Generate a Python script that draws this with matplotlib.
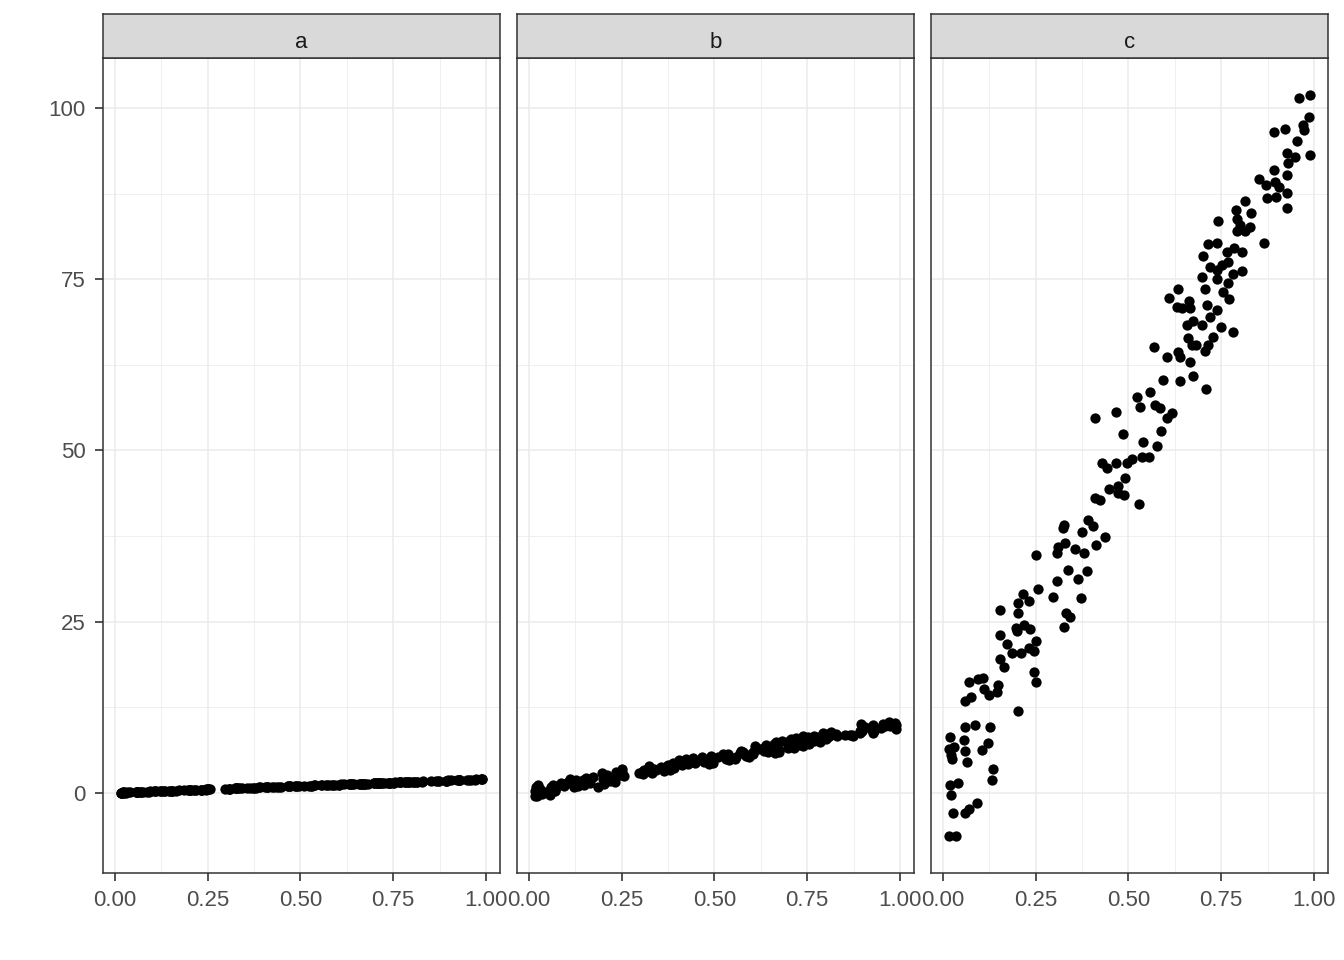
import matplotlib
matplotlib.use("Agg")
import matplotlib.pyplot as plt
from matplotlib.ticker import MultipleLocator, FormatStrFormatter

plt.rcParams['font.family'] = ['Liberation Sans', 'DejaVu Sans']

facets = ["a", "b", "c"]

x_vals = [0.017, 0.035, 0.027, 0.059, 0.070, 0.092, 0.019, 0.040, 0.022, 0.135,
          0.132, 0.018, 0.030, 0.022, 0.024, 0.019, 0.059, 0.065, 0.057, 0.105,
          0.121, 0.059, 0.086, 0.127, 0.202, 0.059, 0.075, 0.070, 0.094, 0.108,
          0.111, 0.124, 0.146, 0.148, 0.245, 0.251, 0.154, 0.164, 0.186, 0.210,
          0.232, 0.245, 0.173, 0.251, 0.154, 0.197, 0.199, 0.218, 0.235, 0.326,
          0.332, 0.154, 0.202, 0.202, 0.216, 0.232, 0.256, 0.296, 0.307, 0.251,
          0.342, 0.372, 0.364, 0.337, 0.388, 0.307, 0.310, 0.329, 0.356, 0.380,
          0.323, 0.326, 0.375, 0.391, 0.404, 0.412, 0.437, 0.410, 0.423, 0.528,
          0.447, 0.472, 0.472, 0.488, 0.491, 0.429, 0.442, 0.466, 0.496, 0.509,
          0.536, 0.555, 0.539, 0.577, 0.588, 0.485, 0.410, 0.466, 0.523, 0.531,
          0.558, 0.571, 0.585, 0.604, 0.593, 0.617, 0.569, 0.639, 0.674, 0.709,
          0.604, 0.633, 0.639, 0.666, 0.660, 0.671, 0.682, 0.728, 0.714, 0.706,
          0.658, 0.674, 0.698, 0.749, 0.782, 0.631, 0.644, 0.666, 0.712, 0.739,
          0.720, 0.609, 0.663, 0.771, 0.633, 0.706, 0.755, 0.768, 0.698, 0.739,
          0.782, 0.806, 0.720, 0.739, 0.752, 0.701, 0.768, 0.765, 0.784, 0.806,
          0.714, 0.739, 0.741, 0.792, 0.801, 0.792, 0.814, 0.827, 0.865, 0.790,
          0.830, 0.814, 0.873, 0.898, 0.927, 0.927, 0.852, 0.871, 0.895, 0.906,
          0.927, 0.892, 0.927, 0.949, 0.930, 0.989, 0.954, 0.892, 0.922, 0.970,
          0.973, 0.987, 0.960, 0.988]

y_a = [0.02, 0.05, 0.08, 0.10, 0.16, 0.17, 0.01, 0.10, 0.06, 0.27,
       0.25, 0.04, 0.04, 0.05, 0.03, 0.00, 0.14, 0.12, 0.10, 0.22,
       0.23, 0.13, 0.19, 0.24, 0.40, 0.12, 0.14, 0.15, 0.20, 0.21,
       0.22, 0.26, 0.29, 0.31, 0.48, 0.50, 0.32, 0.33, 0.37, 0.41,
       0.47, 0.49, 0.35, 0.51, 0.30, 0.39, 0.41, 0.43, 0.46, 0.65,
       0.66, 0.31, 0.40, 0.42, 0.44, 0.46, 0.51, 0.59, 0.61, 0.49,
       0.68, 0.74, 0.73, 0.67, 0.78, 0.62, 0.61, 0.66, 0.71, 0.76,
       0.64, 0.66, 0.75, 0.79, 0.81, 0.82, 0.87, 0.83, 0.84, 1.05,
       0.90, 0.95, 0.94, 0.97, 0.98, 0.86, 0.88, 0.93, 0.99, 1.02,
       1.07, 1.11, 1.08, 1.15, 1.18, 0.97, 0.82, 0.93, 1.05, 1.06,
       1.12, 1.14, 1.17, 1.21, 1.19, 1.23, 1.14, 1.28, 1.35, 1.42,
       1.21, 1.27, 1.28, 1.33, 1.32, 1.34, 1.36, 1.46, 1.43, 1.41,
       1.32, 1.35, 1.40, 1.50, 1.56, 1.26, 1.29, 1.33, 1.42, 1.48,
       1.44, 1.22, 1.33, 1.54, 1.27, 1.41, 1.51, 1.54, 1.40, 1.48,
       1.56, 1.61, 1.44, 1.48, 1.50, 1.40, 1.54, 1.53, 1.57, 1.61,
       1.43, 1.48, 1.48, 1.58, 1.60, 1.58, 1.63, 1.65, 1.73, 1.58,
       1.66, 1.63, 1.75, 1.80, 1.85, 1.86, 1.70, 1.74, 1.79, 1.81,
       1.85, 1.78, 1.85, 1.90, 1.86, 1.98, 1.91, 1.78, 1.84, 1.94,
       1.95, 1.97, 1.92, 1.98]

y_b = [0.3, -0.2, 0.6, 0.9, 0.4, 1.3, 0.9, 0.1, -0.4, 1.6,
       1.0, -0.5, 0.5, 0.0, 1.1, 0.2, 0.2, 1.2, -0.3, 1.6,
       0.9, 0.7, 1.5, 1.9, 1.3, 0.5, 1.0, 0.2, 1.0, 1.4,
       2.0, 1.2, 1.8, 1.2, 2.9, 3.5, 1.9, 1.5, 0.9, 2.6,
       2.1, 2.6, 2.3, 2.8, 2.2, 2.9, 2.0, 1.7, 3.0, 3.6,
       2.9, 1.4, 2.1, 2.6, 2.2, 1.6, 2.4, 2.9, 3.2, 3.1,
       3.4, 3.9, 3.2, 3.5, 4.3, 2.7, 3.3, 3.1, 3.7, 3.3,
       3.9, 3.4, 4.0, 3.6, 4.8, 4.1, 4.6, 4.4, 4.9, 5.2,
       4.3, 5.0, 4.5, 4.9, 5.4, 4.2, 5.1, 4.8, 4.4, 5.3,
       5.7, 5.0, 4.8, 5.9, 5.5, 4.2, 4.5, 5.2, 5.6, 4.9,
       5.3, 6.1, 5.4, 6.0, 5.2, 6.4, 5.8, 6.5, 6.0, 7.3,
       5.7, 6.1, 7.0, 6.6, 7.1, 6.4, 7.5, 7.0, 6.5, 7.8,
       6.8, 6.2, 7.2, 7.9, 8.2, 6.6, 5.9, 7.4, 6.9, 7.6,
       8.0, 6.9, 5.8, 7.7, 6.3, 7.0, 7.2, 8.3, 6.6, 7.3,
       7.9, 8.6, 7.4, 6.9, 8.1, 7.6, 7.6, 8.0, 7.4, 8.2,
       7.1, 8.3, 7.8, 8.5, 7.9, 8.8, 8.4, 8.6, 8.4, 8.1,
       8.3, 8.9, 8.3, 9.0, 9.2, 8.7, 8.4, 8.5, 10.0, 9.6,
       9.4, 9.1, 9.9, 9.5, 9.0, 9.3, 10.1, 8.8, 9.3, 10.3,
       9.8, 10.2, 9.7, 9.9]

y_c = [-6.3, -6.3, -2.9, -2.9, -2.3, -1.5, 1.2, 1.5, -0.3, 3.5,
       1.9, 6.4, 6.7, 5.5, 5.0, 8.2, 6.1, 4.5, 7.7, 6.3,
       7.3, 9.6, 9.9, 9.6, 12.0, 13.4, 14.0, 16.2, 16.6, 16.8,
       15.2, 14.3, 14.7, 15.8, 17.7, 16.2, 19.6, 18.4, 20.4, 20.4,
       21.2, 20.7, 21.8, 22.2, 23.1, 24.1, 23.6, 24.5, 23.9, 24.2,
       26.3, 26.7, 26.3, 27.7, 29.1, 28.0, 29.8, 28.6, 30.9, 34.7,
       25.7, 28.5, 31.2, 32.6, 32.4, 35.0, 35.9, 36.5, 35.6, 35.0,
       38.7, 39.1, 38.1, 39.9, 39.0, 36.2, 37.4, 43.1, 42.8, 42.2,
       44.4, 44.8, 43.8, 43.5, 46.0, 48.2, 47.4, 48.2, 48.2, 48.8,
       49.1, 49.1, 51.2, 50.7, 52.8, 52.4, 54.7, 55.6, 57.8, 56.4,
       58.5, 56.6, 56.2, 54.7, 60.3, 55.5, 65.1, 60.1, 60.9, 59.0,
       63.6, 64.4, 63.6, 62.9, 66.4, 65.4, 65.4, 66.6, 65.4, 64.5,
       68.3, 68.9, 68.3, 68.0, 67.3, 70.9, 70.8, 70.8, 71.2, 70.5,
       69.5, 72.3, 71.8, 72.1, 73.6, 73.6, 73.1, 74.5, 75.3, 75.0,
       75.8, 76.2, 76.8, 76.4, 77.1, 78.4, 77.5, 79.0, 79.6, 79.0,
       80.1, 80.3, 83.5, 83.8, 82.9, 82.0, 82.0, 82.6, 80.3, 85.1,
       84.7, 86.4, 86.9, 87.0, 85.4, 87.6, 89.6, 88.8, 89.2, 88.5,
       90.2, 91.0, 93.4, 92.8, 92.0, 93.1, 95.2, 96.5, 96.9, 97.5,
       96.8, 98.7, 101.4, 101.9]

x_breaks = [0.0, 0.25, 0.5, 0.75, 1.0]
y_breaks = [0, 25, 50, 75, 100]

series = {"a": y_a, "b": y_b, "c": y_c}

W, H = 1344, 960
fig = plt.figure(figsize=(W / 100, H / 100), dpi=100)

panel_lefts = [103, 517, 931]
panel_w = 397
panel_top, panel_bottom = 58, 873
strip_top = 14

all_y = y_a + y_b + y_c
ymin, ymax = min(all_y), max(all_y)
ypad = 0.05 * (ymax - ymin)
xmin, xmax = min(x_vals), max(x_vals)
xpad = 0.05 * (xmax - xmin)

grey_text = '#4D4D4D'
border = '#333333'

for i, (fac, left) in enumerate(zip(facets, panel_lefts)):
    ax = fig.add_axes([left / W, 1 - panel_bottom / H, panel_w / W,
                       (panel_bottom - panel_top) / H])
    ax.set_facecolor('white')
    ax.set_xlim(xmin - xpad, xmax + xpad)
    ax.set_ylim(ymin - ypad, ymax + ypad)
    ax.set_xticks(x_breaks)
    ax.set_yticks(y_breaks)
    ax.xaxis.set_minor_locator(MultipleLocator(0.125))
    ax.yaxis.set_minor_locator(MultipleLocator(12.5))
    ax.xaxis.set_major_formatter(FormatStrFormatter('%.2f'))
    ax.grid(which='major', color='#EBEBEB', linewidth=1.1)
    ax.grid(which='minor', color='#EBEBEB', linewidth=0.55)
    ax.set_axisbelow(True)
    for sp in ax.spines.values():
        sp.set_color(border)
        sp.set_linewidth(1.1)
    ax.scatter(x_vals, series[fac], s=55, color='black', linewidths=0, zorder=3)
    ax.tick_params(axis='both', which='major', length=6, width=1.2,
                   color=border, labelcolor=grey_text, labelsize=16)
    ax.tick_params(axis='x', which='major', pad=6)
    ax.tick_params(axis='y', which='major', pad=6.5)
    ax.tick_params(axis='both', which='minor', length=0)
    if i > 0:
        ax.tick_params(axis='y', which='both', left=False, labelleft=False)
    # strip
    sax = fig.add_axes([left / W, 1 - panel_top / H, panel_w / W,
                        (panel_top - strip_top) / H])
    sax.set_facecolor('#D9D9D9')
    sax.set_xticks([])
    sax.set_yticks([])
    for sp in sax.spines.values():
        sp.set_color(border)
        sp.set_linewidth(1.1)
    sax.text(0.5, 0.23, fac, ha='center', va='baseline', fontsize=16,
             color='#1A1A1A', transform=sax.transAxes)

fig.savefig('out.png', dpi=100, facecolor='white')
